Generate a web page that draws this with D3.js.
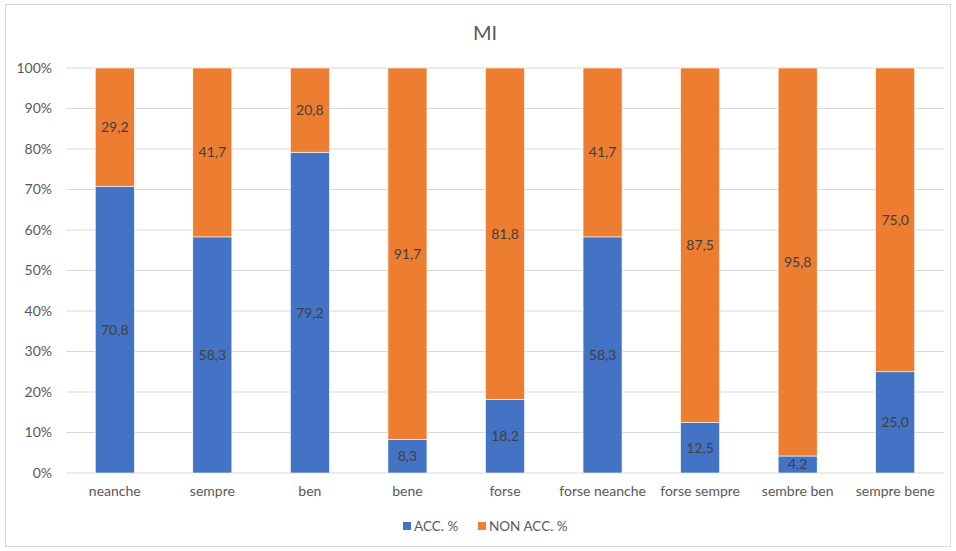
<!DOCTYPE html>
<html>
<head>
<meta charset="utf-8">
<script src="https://cdn.jsdelivr.net/npm/d3@7"></script>
<style>
  html, body { margin: 0; padding: 0; background: #fff; }
  svg { display: block; font-family: Lato, "Liberation Sans", sans-serif; }
</style>
</head>
<body>
<svg id="chart" width="956" height="551"></svg>
<script>
// Word pairs and their acceptance shares (percent)
const categories = ["neanche", "sempre", "ben", "bene", "forse", "forse neanche", "forse sempre", "sembre ben", "sempre bene"];
const accValues = [70.8, 58.3, 79.2, 8.3, 18.2, 58.3, 12.5, 4.2, 25.0];
const nonAccValues = [29.2, 41.7, 20.8, 91.7, 81.8, 41.7, 87.5, 95.8, 75.0];
const seriesNames = ["ACC. %", "NON ACC. %"];
const seriesColors = ["#4472C4", "#ED7D31"];
const yTicks = [0, 10, 20, 30, 40, 50, 60, 70, 80, 90, 100];
const chartTitle = "MI";

const svg = d3.select("#chart");
const W = 956, H = 551;
const margin = { top: 68, right: 12, bottom: 78, left: 66 };
const plotW = W - margin.left - margin.right;
const plotH = H - margin.top - margin.bottom;
const FONT = 'Lato, "Liberation Sans", sans-serif';

// outer chart frame
svg.append("rect")
  .attr("x", 5.5).attr("y", 4.5)
  .attr("width", W - 11).attr("height", H - 9)
  .attr("fill", "#fff").attr("stroke", "#d9d9d9").attr("stroke-width", 1);

svg.append("text")
  .attr("x", 485).attr("y", 40)
  .attr("text-anchor", "middle")
  .attr("font-size", 20).attr("fill", "#595959")
  .text(chartTitle);

const g = svg.append("g").attr("transform", `translate(${margin.left},${margin.top})`);

const x = d3.scaleBand().domain(categories).range([0, plotW]).paddingInner(0.6).paddingOuter(0.3);
const y = d3.scaleLinear().domain([0, 100]).range([plotH, 0]);

// horizontal gridlines
g.append("g").selectAll("line").data(yTicks).join("line")
  .attr("x1", 0).attr("x2", plotW)
  .attr("y1", d => y(d)).attr("y2", d => y(d))
  .attr("stroke", "#d9d9d9").attr("stroke-width", 1);

// y axis labels
const yAxis = d3.axisLeft(y).tickValues(yTicks).tickFormat(d => d + "%").tickSize(0).tickPadding(14);
g.append("g").call(yAxis)
  .call(s => s.select(".domain").remove())
  .selectAll("text").attr("fill", "#595959").attr("font-size", 14)
  .attr("font-family", FONT);

// x axis labels
const xAxis = d3.axisBottom(x).tickSize(0).tickPadding(13);
g.append("g").attr("transform", `translate(0,${plotH})`).call(xAxis)
  .call(s => s.select(".domain").remove())
  .selectAll("text").attr("fill", "#595959").attr("font-size", 14)
  .attr("font-family", FONT);

// stacked segments
const rows = categories.map((c, i) => ({ cat: c, acc: accValues[i], non: nonAccValues[i] }));
const stack = d3.stack().keys(["acc", "non"]);
const layers = stack(rows);

layers.forEach((layer, li) => {
  const lg = g.append("g");
  lg.selectAll("rect").data(layer).join("rect")
    .attr("x", d => x(d.data.cat))
    .attr("width", x.bandwidth())
    .attr("y", d => y(d[1]))
    .attr("height", d => y(d[0]) - y(d[1]))
    .attr("fill", seriesColors[li])
    .attr("stroke", "#fff").attr("stroke-width", 0.6);
  lg.selectAll("text").data(layer).join("text")
    .attr("x", d => x(d.data.cat) + x.bandwidth() / 2)
    .attr("y", d => (y(d[0]) + y(d[1])) / 2)
    .attr("dy", "0.35em")
    .attr("text-anchor", "middle")
    .attr("font-size", 14).attr("fill", "#404040")
    .text(d => (d[1] - d[0]).toFixed(1).replace(".", ","));
});

// legend
const legend = svg.append("g").attr("transform", "translate(403,526)");
const legendOffsets = [0, 75];
seriesNames.forEach((name, i) => {
  const item = legend.append("g").attr("transform", `translate(${legendOffsets[i]},0)`);
  item.append("rect").attr("x", 0).attr("y", -4).attr("width", 8).attr("height", 8).attr("fill", seriesColors[i]);
  item.append("text").attr("x", 11).attr("y", 0).attr("dy", "0.35em")
    .attr("font-size", 13.5).attr("fill", "#595959").text(name);
});
</script>
</body>
</html>
